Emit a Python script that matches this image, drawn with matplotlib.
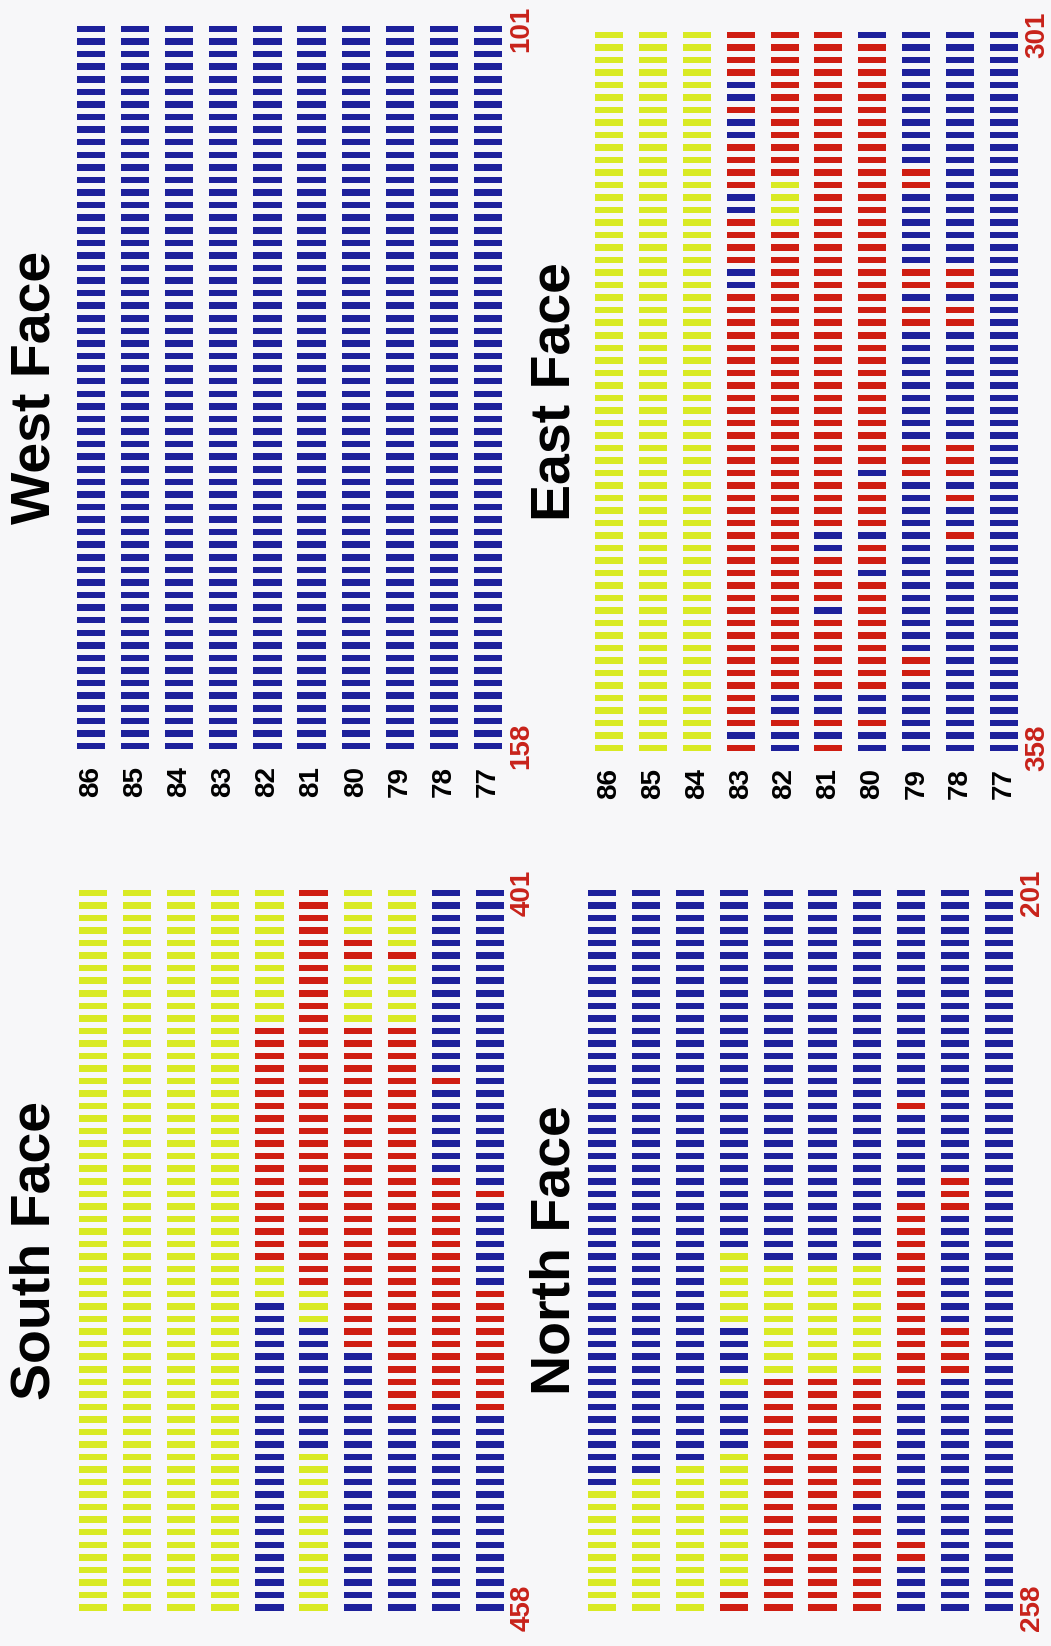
import matplotlib
matplotlib.use("Agg")
import matplotlib.pyplot as plt
import numpy as np

# Occupancy map of the four faces: 10 floors x 58 rooms each.
# Each floor is a run-length code read from top room to bottom room.
# Y = yellow, R = red, B = blue
FLOORS = [86, 85, 84, 83, 82, 81, 80, 79, 78, 77]

SOUTH_ROOMS = (401, 458)
SOUTH = [
    "58Y",
    "58Y",
    "58Y",
    "58Y",
    "11Y 19R 3Y 25B",
    "32R 3Y 10B 13Y",
    "4Y 2R 5Y 26R 21B",
    "5Y 1R 5Y 31R 16B",
    "15B 1R 7B 18R 17B",
    "24B 1R 7B 10R 16B",
]

WEST_ROOMS = (101, 158)
WEST = ["58B"] * 10

NORTH_ROOMS = (201, 258)
NORTH = [
    "48B 10Y",
    "47B 11Y",
    "46B 12Y",
    "29B 6Y 4B 1Y 5B 11Y 2R",
    "30B 9Y 19R",
    "30B 9Y 19R",
    "30B 9Y 10R 1B 8R",
    "17B 1R 7B 15R 12B 2R 4B",
    "23B 3R 9B 4R 19B",
    "58B",
]

EAST_ROOMS = (301, 358)
EAST = [
    "58Y",
    "58Y",
    "58Y",
    "4R 2B 1R 2B 4R 2B 4R 2B 35R 1B 1R",
    "12R 4Y 37R 2B 1R 2B",
    "40R 2B 4R 1B 6R 2B 1R 1B 1R",
    "1B 34R 1B 4R 1B 2R 1B 9R 2B 1R 2B",
    "11B 2R 6B 2R 1B 2R 9B 3R 14B 2R 6B",
    "19B 2R 1B 2R 9B 3R 1B 1R 2B 1R 17B",
    "58B",
]

COLORS = {"Y": "#d9ea24", "R": "#cf1d12", "B": "#1d209b"}
LABEL_RED = "#c8221a"
BG = "#f7f7f9"

W, H = 1051, 1646


def expand(code):
    cells = []
    for tok in code.split():
        cells += [tok[-1]] * int(tok[:-1])
    return cells


def fig_rect(left, top, width, height):
    return [left / W, 1 - (top + height) / H, width / W, height / H]


def draw_face(fig, rect, floors, rooms, title, title_x):
    ax = fig.add_axes(fig_rect(*rect))
    n = len(expand(floors[0]))
    idx = np.arange(n)
    for i, code in enumerate(floors):
        cells = expand(code)
        ax.barh(idx, 0.64, left=i - 0.32, height=0.52,
                color=[COLORS[c] for c in cells], linewidth=0)
    ax.set_xlim(-0.5, len(floors) - 0.5)
    ax.set_ylim(n - 0.5, -0.5)
    ax.axis("off")

    # first / last room numbers
    for row, num in ((0, rooms[0]), (n - 1, rooms[1])):
        ax.text(9.75, row, str(num), rotation=90, ha="center", va="center",
                color=LABEL_RED, fontsize=20, fontweight="bold",
                family="Liberation Sans", clip_on=False)

    # face title
    top = rect[1] + rect[3] / 2
    fig.text(title_x / W, 1 - top / H, title, rotation=90, ha="center",
             va="center", fontsize=40, fontweight="bold",
             family="Liberation Sans")
    return ax


fig = plt.figure(figsize=(W / 100, H / 100), dpi=100, facecolor=BG)

west = draw_face(fig, (69, 22.7, 441, 729.6), WEST, WEST_ROOMS, "West Face", 36)
draw_face(fig, (71, 886.7, 441, 727), SOUTH, SOUTH_ROOMS, "South Face", 36)
draw_face(fig, (580, 886.7, 441, 727), NORTH, NORTH_ROOMS, "North Face", 556)
east = draw_face(fig, (587, 28.75, 439, 725.6), EAST, EAST_ROOMS, "East Face", 556)

# floor numbers between the panels
for ax in (west, east):
    for i, fl in enumerate(FLOORS):
        ax.text(i, 59.8, str(fl), rotation=90, ha="center", va="center",
                fontsize=20, fontweight="bold", family="Liberation Sans",
                clip_on=False)

fig.savefig("out.png", dpi=100, facecolor=BG)
